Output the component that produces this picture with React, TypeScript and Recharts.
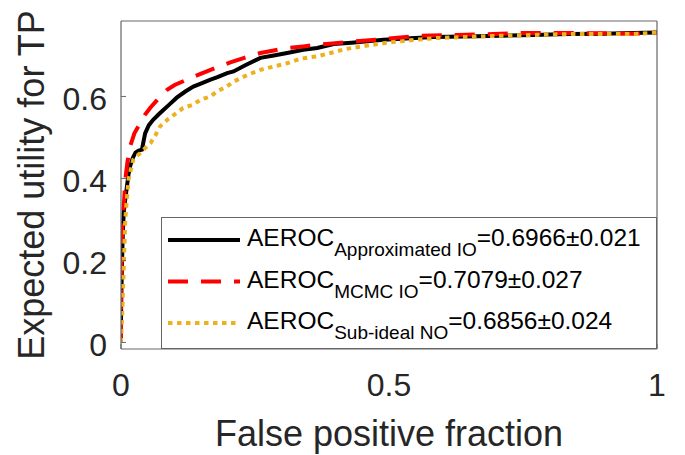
import { Label, Legend, Line, LineChart, XAxis, YAxis } from 'recharts'

// ROC-like curves: false positive fraction vs expected utility for TP
const approxFpf = [0, 0, 0.001, 0.002, 0.003, 0.005, 0.008, 0.011, 0.014, 0.017, 0.022, 0.027, 0.033, 0.039, 0.045, 0.052, 0.06, 0.07, 0.079, 0.09, 0.104, 0.12, 0.135, 0.15, 0.167, 0.18, 0.198, 0.21, 0.23, 0.26, 0.285, 0.31, 0.34, 0.366, 0.397, 0.43, 0.49, 0.54, 0.583, 0.64, 0.708, 0.77, 0.832, 0.9, 0.956, 1]
const approxTpu = [0, 0.06, 0.14, 0.2, 0.25, 0.316, 0.35, 0.38, 0.41, 0.43, 0.45, 0.463, 0.468, 0.47, 0.51, 0.53, 0.543, 0.556, 0.567, 0.58, 0.597, 0.612, 0.624, 0.632, 0.641, 0.647, 0.657, 0.661, 0.675, 0.694, 0.7, 0.706, 0.714, 0.718, 0.728, 0.731, 0.738, 0.742, 0.745, 0.746, 0.748, 0.75, 0.752, 0.753, 0.755, 0.756]

const mcmcFpf = [0, 0, 0, 0.001, 0.002, 0.004, 0.006, 0.008, 0.012, 0.017, 0.025, 0.036, 0.045, 0.055, 0.07, 0.086, 0.1, 0.123, 0.145, 0.167, 0.185, 0.204, 0.23, 0.26, 0.285, 0.31, 0.34, 0.366, 0.4, 0.434, 0.49, 0.558, 0.627, 0.695, 0.757, 0.825, 0.9, 0.956, 1]
const mcmcTpu = [0, 0.015, 0.137, 0.2, 0.267, 0.31, 0.35, 0.397, 0.44, 0.478, 0.51, 0.535, 0.556, 0.573, 0.595, 0.616, 0.628, 0.641, 0.653, 0.665, 0.674, 0.683, 0.694, 0.706, 0.712, 0.718, 0.722, 0.726, 0.73, 0.734, 0.74, 0.748, 0.75, 0.752, 0.755, 0.755, 0.754, 0.753, 0.756]

const subIdealFpf = [0, 0.002, 0.004, 0.006, 0.008, 0.011, 0.014, 0.018, 0.023, 0.03, 0.036, 0.045, 0.055, 0.064, 0.073, 0.088, 0.104, 0.116, 0.135, 0.148, 0.167, 0.179, 0.198, 0.21, 0.235, 0.26, 0.285, 0.31, 0.335, 0.366, 0.397, 0.42, 0.45, 0.49, 0.54, 0.583, 0.64, 0.708, 0.77, 0.832, 0.9, 0.956, 1]
const subIdealTpu = [0, 0.06, 0.137, 0.22, 0.3, 0.35, 0.397, 0.42, 0.446, 0.455, 0.462, 0.474, 0.486, 0.505, 0.527, 0.545, 0.56, 0.572, 0.58, 0.592, 0.6, 0.612, 0.625, 0.636, 0.652, 0.665, 0.673, 0.681, 0.692, 0.698, 0.708, 0.716, 0.722, 0.73, 0.737, 0.742, 0.745, 0.748, 0.75, 0.752, 0.752, 0.752, 0.756]

const xTicks = [0, 0.5, 1]
const yTicks = [0, 0.2, 0.4, 0.6]

const seriesNames = ['Approximated IO', 'MCMC IO', 'Sub-ideal NO']
const aerocMeans = ['0.6966', '0.7079', '0.6856']
const aerocErrors = ['0.021', '0.027', '0.024']

const SERIES_STYLE = [
  { color: '#000000', dash: undefined },
  { color: '#ff0000', dash: '20 13' },
  { color: '#edb120', dash: '4.5 4.5' },
]

const AXIS = '#666666'
const TEXT = '#262626'

const toPoints = (xs: number[], ys: number[]) => xs.map((x, i) => ({ fpf: x, tpu: ys[i] }))

const curves = [
  toPoints(approxFpf, approxTpu),
  toPoints(mcmcFpf, mcmcTpu),
  toPoints(subIdealFpf, subIdealTpu),
]

function XTick({ x, y, payload }: any) {
  return (
    <text x={x} y={y + 23} textAnchor="middle" fill={TEXT} fontSize={32}>
      {payload.value}
    </text>
  )
}

function YTick({ x, y, payload }: any) {
  return (
    <text x={x} y={y + 14} textAnchor="end" fill={TEXT} fontSize={32}>
      {payload.value}
    </text>
  )
}

function YTitle({ viewBox }: any) {
  const cx = 31
  const cy = viewBox.y + viewBox.height / 2
  return (
    <text
      x={cx}
      y={cy}
      transform={`rotate(-90 ${cx} ${cy})`}
      textAnchor="middle"
      dominantBaseline="central"
      fill={TEXT}
      fontSize={36}
    >
      Expected utility for TP
    </text>
  )
}

function LegendBox() {
  return (
    <svg width={496} height={132} style={{ display: 'block' }}>
      <rect x={0.5} y={0.5} width={495} height={131} fill="#ffffff" stroke={AXIS} />
      {seriesNames.map((name, i) => {
        const cy = 23 + i * 41.5
        const s = SERIES_STYLE[i]
        return (
          <g key={name}>
            <line x1={7} x2={79} y1={cy} y2={cy} stroke={s.color} strokeWidth={4} strokeDasharray={s.dash} />
            <text x={86} y={cy + 6} fontSize={24.5} fill="#000000">
              AEROC
              <tspan fontSize={19} dy={10}>
                {name}
              </tspan>
              <tspan dy={-10}>
                ={aerocMeans[i]}±{aerocErrors[i]}
              </tspan>
            </text>
          </g>
        )
      })}
    </svg>
  )
}

export default function App() {
  return (
    <div
      style={{
        position: 'absolute',
        left: 0,
        top: 0,
        width: 685,
        height: 455,
        background: '#ffffff',
        fontFamily: '"Liberation Sans", Arial, sans-serif',
      }}
    >
      <LineChart width={685} height={455} margin={{ top: 20, right: 27, bottom: 0, left: 0 }}>
        <XAxis
          type="number"
          dataKey="fpf"
          domain={[0, 1]}
          ticks={xTicks}
          allowDataOverflow
          height={106}
          axisLine={{ stroke: AXIS, strokeWidth: 1.2 }}
          tickLine={{ stroke: AXIS }}
          tickSize={-5}
          tickMargin={29}
          tick={<XTick />}
        >
          <Label value="False positive fraction" position="insideBottom" offset={9} fontSize={36} fill={TEXT} />
        </XAxis>
        <XAxis
          xAxisId="top"
          orientation="top"
          type="number"
          dataKey="fpf"
          domain={[0, 1]}
          ticks={xTicks}
          allowDataOverflow
          height={1}
          axisLine={{ stroke: AXIS, strokeWidth: 1.2 }}
          tickLine={{ stroke: AXIS }}
          tickSize={-5}
          tick={false}
        />
        <YAxis
          type="number"
          domain={[-0.016, 0.784]}
          ticks={yTicks}
          allowDataOverflow
          width={121}
          axisLine={{ stroke: AXIS, strokeWidth: 1.2 }}
          tickLine={{ stroke: AXIS }}
          tickSize={-5}
          tickMargin={19}
          tick={<YTick />}
        >
          <Label content={<YTitle />} />
        </YAxis>
        <YAxis
          yAxisId="right"
          orientation="right"
          type="number"
          domain={[-0.016, 0.784]}
          ticks={yTicks}
          allowDataOverflow
          width={1}
          axisLine={{ stroke: AXIS, strokeWidth: 1.2 }}
          tickLine={{ stroke: AXIS }}
          tickSize={-5}
          tick={false}
        />
        {curves.map((points, i) => (
          <Line
            key={seriesNames[i]}
            data={points}
            dataKey="tpu"
            name={seriesNames[i]}
            type="linear"
            stroke={SERIES_STYLE[i].color}
            strokeWidth={4}
            strokeDasharray={SERIES_STYLE[i].dash}
            dot={false}
            isAnimationActive={false}
          />
        ))}
        <Legend
          layout="vertical"
          align="center"
          verticalAlign="middle"
          content={() => <LegendBox />}
          wrapperStyle={{ left: 161, top: 217, width: 496, height: 132 }}
        />
      </LineChart>
    </div>
  )
}
